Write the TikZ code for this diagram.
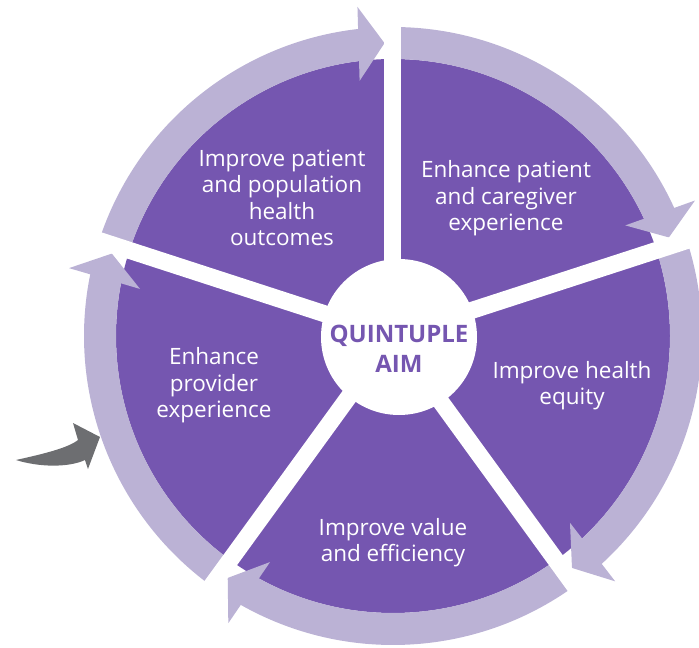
\documentclass[tikz,border=0pt]{standalone}
\usepackage{fontspec}
\setmainfont{Open Sans}
\definecolor{aimpurple}{HTML}{7556B0}
\definecolor{aimring}{HTML}{BBB2D5}
\definecolor{aimgray}{HTML}{6D6E71}
\begin{document}
\begin{tikzpicture}[x=1pt,y=1pt,
  ringfill/.style={fill=aimring},
  gapline/.style={draw=white,line width=17pt},
  aimtext/.style={text=white,align=center,inner sep=0pt,font=\fontsize{22.5}{26.5}\selectfont},
  centertext/.style={text=aimpurple,align=center,inner sep=0pt,font=\bfseries\fontsize{24}{30}\selectfont}]
\useasboundingbox (-393,-312) rectangle (306,336);
% purple disc
\fill[aimpurple] (0,0) circle[radius=277];
% ring segments with arrowheads
\foreach \a in {162,90,18,-54,-126}{
  \pgfmathsetmacro{\t}{\a-72+1.66}
  \pgfmathsetmacro{\e}{\t+3.5}
  \fill[ringfill] (\a:277) arc[start angle=\a,end angle=\e,radius=277]
     -- (\e:309) arc[start angle=\e,end angle=\a,radius=309] -- cycle;
  \fill[ringfill] (\t:293)
     -- ({330*cos(\t)-26*sin(\t)},{330*sin(\t)+26*cos(\t)})
     -- ({256*cos(\t)-26*sin(\t)},{256*sin(\t)+26*cos(\t)}) -- cycle;
}
% white gaps
\foreach \g in {90,18,-54,-126,162}{
  \draw[gapline] (0,0) -- (\g:345);
}
% hub
\node[circle,fill=white,minimum size=156pt,inner sep=0pt] (hub) at (6,-1) {};
\node[centertext] (aim) at (6,-13) {QUINTUPLE\\AIM};
% sector texts
\node[aimtext] (outcomes) at (-111,138) {Improve patient\\and population\\health\\outcomes};
\node[aimtext] (patient) at (113,137.5) {Enhance patient\\and caregiver\\experience};
\node[aimtext] (equity) at (179,-49.5) {Improve health\\equity};
\node[aimtext] (value) at (0,-206.5) {Improve value\\and efficiency};
\node[aimtext] (provider) at (-179,-49.5) {Enhance\\provider\\experience};
% grey pointer arrow
\fill[aimgray] (-377,-124) .. controls (-350,-118) and (-325,-112) .. (-315,-104)
   -- (-320,-87) -- (-293,-101) -- (-305,-133) -- (-308,-124)
   .. controls (-325,-132) and (-355,-131) .. cycle;
\end{tikzpicture}
\end{document}
